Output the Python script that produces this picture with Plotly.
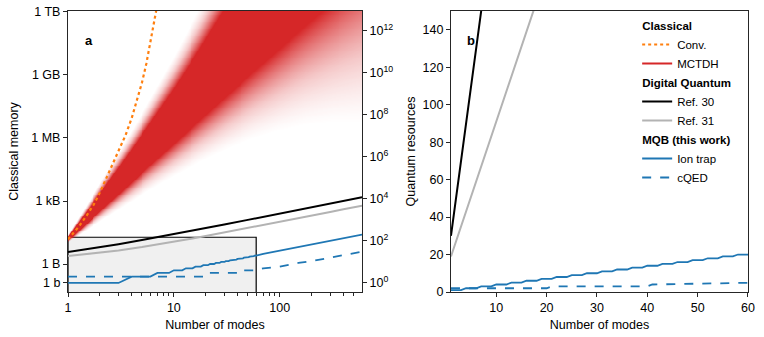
import numpy as np
import plotly.graph_objects as go

# Data #
# classical, conventional grid (bits)
conv_modes = [1.0, 1.25, 1.5, 1.75, 2.0, 2.5, 3.0, 3.5, 4.0, 4.5, 5.0, 5.5, 6.0, 6.5, 7.0, 7.3]
conv_bits = [1.2e2, 4.5e2, 1.6e3, 5.4e3, 2.0e4, 2.5e5, 2.0e6, 1.1e7, 7.1e7, 5.0e8,
             3.5e9, 2.8e10, 2.5e11, 2.0e12, 1.6e13, 6.0e13]

# MCTDH band: centre (bits) and spread (decades) read from the shading
band_modes = [1, 1.78, 3.16, 5.62, 10, 17.8, 31.6, 56.2, 100, 178, 316, 600]
band_center_bits = [1.26e2, 3.4e3, 9.3e4, 2.75e6, 8.3e7, 2.9e9, 1.15e11, 5.4e12,
                    2.9e14, 2.0e16, 1.6e18, 3.2e20]
band_spread_dec = [0.08, 0.33, 0.6, 0.88, 1.2, 1.56, 1.98, 2.47, 3.04, 3.7, 4.45, 5.43]

# digital quantum (qubits)
digital_modes = [1, 2, 3, 5, 7, 10, 15, 20, 30, 50, 70, 100, 150, 200, 300, 400, 600]
ref30 = [30, 50, 70, 110, 150, 210, 310, 410, 610, 1010, 1410, 2010, 3010, 4010, 6010, 8010, 12000]
ref31 = [19, 27, 35, 51, 67, 91, 131, 171, 251, 411, 571, 811, 1211, 1611, 2411, 3211, 4800]

# MQB (this work)
mqb_modes = list(range(1, 61)) + [70, 100, 150, 200, 300, 400, 600]
ion_trap = [1, 1, 1, 2, 2, 2, 3, 3, 3, 4, 4, 4, 5, 5, 5, 6, 6, 6, 7, 7,
            7, 8, 8, 8, 9, 9, 9, 10, 10, 10, 11, 11, 11, 12, 12, 12, 13, 13, 13, 14,
            14, 14, 15, 15, 15, 16, 16, 16, 17, 17, 17, 18, 18, 18, 19, 19, 19, 20, 20, 20,
            24, 34, 50, 67, 100, 134, 200]
cqed = [2] * 20 + [3] * 20 + [4] * 20 + [5, 6, 9, 11, 16, 21, 31]

# panel b window shown as box in panel a
box_modes = [1, 60]
box_resources = 150

mem_tickvals = [1, 8, 8e3, 8e6, 8e9, 8e12]
mem_ticktext = ["1 b", "1 B", "1 kB", "1 MB", "1 GB", "1 TB"]
q_tickvals = [1e0, 1e2, 1e4, 1e6, 1e8, 1e10, 1e12]
q_ticktext = ["10<sup>0</sup>", "10<sup>2</sup>", "10<sup>4</sup>", "10<sup>6</sup>",
              "10<sup>8</sup>", "10<sup>10</sup>", "10<sup>12</sup>"]

# Definitions #
FONT = "Liberation Sans"
RED = "#d62728"
ORANGE = "#ff7f0e"
BLUE = "#1f77b4"
GREY = "#b3b3b3"
AXC = "#262626"

y_range = [-0.43, 12.95]
x_range = [0, np.log10(600)]

fig = go.Figure()

# MCTDH shading as heatmap on log axes (explicit cell edges)
nx, ny = 300, 320
x_edges = np.logspace(x_range[0], x_range[1], nx + 1)
y_edges = np.logspace(y_range[0], y_range[1], ny + 1)
ux = np.log10(np.sqrt(x_edges[:-1] * x_edges[1:]))
uy = np.log10(np.sqrt(y_edges[:-1] * y_edges[1:]))
c = np.interp(ux, np.log10(band_modes), np.log10(band_center_bits))
s = np.interp(ux, np.log10(band_modes), band_spread_dec)
z = np.exp(-0.5 * ((uy[:, None] - c[None, :]) / s[None, :]) ** 2)

fig.add_trace(go.Heatmap(
    x=x_edges, y=y_edges, z=np.round(z, 3),
    colorscale=[[0, "rgba(214,39,40,0)"], [0.06, "rgba(214,39,40,0)"],
                [0.2, "rgba(214,39,40,0.25)"], [0.55, "rgba(214,39,40,1)"],
                [1, "rgba(214,39,40,1)"]],
    zmin=0, zmax=1, showscale=False, hoverinfo="skip",
    xaxis="x", yaxis="y",
))

# legend groups
fig.add_trace(go.Scatter(
    x=conv_modes, y=conv_bits, mode="lines", name="Conv.",
    line=dict(color=ORANGE, width=2.2, dash="dot"),
    legendgroup="classical", legendgrouptitle_text="<b>Classical</b>",
    xaxis="x", yaxis="y",
))
fig.add_trace(go.Scatter(
    x=[None], y=[None], mode="lines", name="MCTDH",
    line=dict(color=RED, width=2.2),
    legendgroup="classical", xaxis="x", yaxis="y",
))

for xs, ys, name, col, dash, grp, title in [
    (digital_modes, ref30, "Ref. 30", "black", "solid", "digital", "<b>Digital Quantum</b>"),
    (digital_modes, ref31, "Ref. 31", GREY, "solid", "digital", None),
    (mqb_modes, ion_trap, "Ion trap", BLUE, "solid", "mqb", "<b>MQB (this work)</b>"),
    (mqb_modes, cqed, "cQED", BLUE, "dash", "mqb", None),
]:
    lw = 2.0 if grp == "digital" else 1.8
    fig.add_trace(go.Scatter(
        x=xs, y=ys, mode="lines", name=name,
        line=dict(color=col, width=lw, dash=dash),
        legendgroup=grp, legendgrouptitle_text=title,
        xaxis="x", yaxis="y2",
    ))
    fig.add_trace(go.Scatter(
        x=xs, y=ys, mode="lines", name=name,
        line=dict(color=col, width=lw, dash=dash),
        legendgroup=grp, showlegend=False,
        xaxis="x2", yaxis="y3",
    ))

# grey box = panel b window
fig.add_shape(
    type="rect", xref="x", yref="y",
    x0=box_modes[0], x1=box_modes[1], y0=0.1, y1=box_resources,
    fillcolor="#f0f0f0", line=dict(color="black", width=1.2), layer="below",
)

tick_font = dict(family=FONT, size=12.5, color="black")
axis_common = dict(
    showline=True, linecolor=AXC, linewidth=1.1, mirror=True,
    ticks="outside", ticklen=4, tickcolor=AXC, tickwidth=1.1,
    showgrid=False, zeroline=False, tickfont=tick_font, automargin=False,
    ticklabeloverflow="allow",
)

fig.update_layout(
    width=764, height=337,
    margin=dict(l=68, r=16, t=11, b=45),
    plot_bgcolor="white", paper_bgcolor="white",
    font=dict(family=FONT, size=12.5, color="black"),
    xaxis=dict(
        axis_common, type="log", domain=[0, 0.4324], range=x_range, anchor="y",
        tickvals=[1, 10, 100], ticktext=["1", "10", "100"],
        minor=dict(ticks="outside", ticklen=2.5, tickcolor=AXC,
                   tickvals=[2, 3, 4, 5, 6, 7, 8, 9, 20, 30, 40, 50, 60, 70, 80, 90,
                             200, 300, 400, 500]),
        title=dict(text="Number of modes", font=dict(family=FONT, size=12.5), standoff=6),
    ),
    yaxis=dict(
        axis_common, type="log", range=y_range, anchor="x",
        tickvals=mem_tickvals, ticktext=mem_ticktext,
        title=dict(text="Classical memory", font=dict(family=FONT, size=12.5), standoff=9),
    ),
    yaxis2=dict(
        axis_common, type="log", range=y_range, overlaying="y", side="right", anchor="x",
        tickvals=q_tickvals, ticktext=q_ticktext, mirror=False,
    ),
    xaxis2=dict(
        axis_common, domain=[0.5632, 1], range=[1, 60], anchor="y3",
        tickvals=[10, 20, 30, 40, 50, 60],
        title=dict(text="Number of modes", font=dict(family=FONT, size=12.5), standoff=6),
    ),
    yaxis3=dict(
        axis_common, range=[0, 150], anchor="x2",
        tickvals=[0, 20, 40, 60, 80, 100, 120, 140],
        title=dict(text="Quantum resources", font=dict(family=FONT, size=12.5), standoff=4),
    ),
    legend=dict(
        x=0.837, y=1.0, xanchor="left", yanchor="top", maxheight=400,
        font=dict(family=FONT, size=11.5, color="black"),
        grouptitlefont=dict(family=FONT, size=11.5, color="black"),
        traceorder="grouped", tracegroupgap=0, bgcolor="rgba(0,0,0,0)",
        itemwidth=30,
    ),
    showlegend=True,
    annotations=[
        dict(text="<b>a</b>", x=0.051, y=0.929, xref="x domain", yref="y domain",
             showarrow=False, font=dict(family=FONT, size=13)),
        dict(text="<b>b</b>", x=0.048, y=0.929, xref="x2 domain", yref="y3 domain",
             showarrow=False, font=dict(family=FONT, size=13)),
    ],
)

# drop the page's default body margin so the figure sits at the window corner
fig.write_html("out.html", config={"displayModeBar": False},
               post_script="document.body.style.margin='0';")
